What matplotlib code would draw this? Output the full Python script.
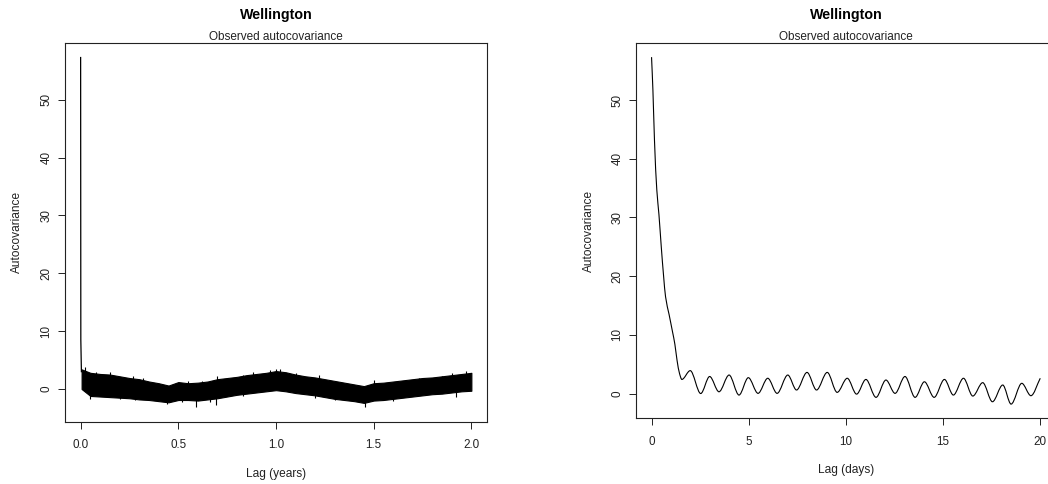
import numpy as np
import matplotlib
matplotlib.use("Agg")
import matplotlib.pyplot as plt
from matplotlib.path import Path
from matplotlib.patches import PathPatch

plt.rcParams["font.family"] = ["Liberation Sans", "DejaVu Sans"]

# ---------------- data ----------------
city = "Wellington"
subtitle = "Observed autocovariance"
ylabel = "Autocovariance"
xlabel_left = "Lag (years)"
xlabel_right = "Lag (days)"

# left panel: lag in years
spike_years = [0.0, 0.001, 0.004]
spike_vals = [57.3, 8.5, 3.0]
band_years = [0.005, 0.05, 0.1, 0.15, 0.2, 0.25, 0.3, 0.35, 0.4, 0.45, 0.5,
              0.55, 0.6, 0.65, 0.7, 0.75, 0.8, 0.85, 0.9, 0.95, 1.0, 1.05,
              1.1, 1.15, 1.2, 1.25, 1.3, 1.35, 1.4, 1.45, 1.5, 1.55, 1.6,
              1.65, 1.7, 1.75, 1.8, 1.85, 1.9, 1.95, 2.0]
band_top = [3.4, 2.8, 2.6, 2.5, 2.2, 1.9, 1.7, 1.3, 1.0, 0.6, 1.2,
            1.0, 1.1, 1.3, 1.7, 1.9, 2.1, 2.4, 2.6, 2.8, 3.1, 2.9,
            2.5, 2.2, 2.0, 1.7, 1.4, 1.1, 0.8, 0.5, 1.0, 1.1, 1.3,
            1.5, 1.7, 1.9, 2.0, 2.2, 2.4, 2.6, 2.8]
band_bottom = [0.0, -1.2, -1.3, -1.4, -1.5, -1.6, -1.8, -1.9, -2.1, -2.3, -1.9,
               -1.9, -2.0, -1.8, -1.6, -1.3, -1.0, -0.8, -0.6, -0.4, -0.2, -0.4,
               -0.7, -0.9, -1.1, -1.4, -1.7, -1.9, -2.1, -2.4, -2.0, -1.9, -1.7,
               -1.5, -1.3, -1.1, -0.9, -0.8, -0.6, -0.4, -0.3]
peak_years = [0.02, 0.08, 0.15, 0.27, 0.32, 0.55, 0.62, 0.7, 0.83, 0.88,
              0.97, 1.0, 1.02, 1.1, 1.22, 1.5, 1.62, 1.73, 1.85, 1.9, 1.97]
peak_vals = [3.8, 3.0, 2.9, 2.3, 1.9, 1.3, 1.4, 2.3, 2.5, 2.9,
             3.3, 3.5, 3.4, 2.8, 2.4, 1.6, 1.4, 1.9, 2.3, 2.7, 3.1]
dip_years = [0.05, 0.2, 0.28, 0.44, 0.52, 0.593, 0.66, 0.695, 0.83,
             1.2, 1.3, 1.455, 1.6, 1.92]
dip_vals = [-1.7, -1.8, -1.9, -2.6, -2.2, -3.15, -2.3, -2.7, -1.2,
            -1.5, -1.9, -3.15, -2.1, -1.3]

# right panel: lag in days
curve_days = [0.0, 0.07, 0.15, 0.27, 0.38, 0.5, 0.62, 0.72, 0.9, 1.08, 1.2,
              1.31, 1.44, 1.56, 1.99, 2.53, 2.99, 3.47, 3.99, 4.5, 4.98,
              5.48, 5.98, 6.46, 7.01, 7.46, 8.0, 8.49, 9.04, 9.55, 10.07,
              10.55, 11.03, 11.55, 12.06, 12.53, 13.04, 13.56, 14.04, 14.54,
              15.07, 15.53, 16.05, 16.53, 17.04, 17.54, 18.07, 18.5, 19.05,
              19.52, 20.0]
curve_vals = [57.3, 51.7, 43.2, 34.7, 30.5, 25.0, 20.0, 16.5, 13.5, 10.5, 8.4,
              5.7, 3.4, 2.4, 3.9, 0.0, 2.9, 0.3, 3.15, -0.26, 2.7,
              0.03, 2.6, 0.03, 3.15, 0.6, 3.6, 0.6, 3.6, 0.2, 2.6,
              -0.1, 2.4, -0.65, 2.3, 0.03, 2.9, -0.65, 2.0, -0.65,
              2.4, -0.26, 2.6, -0.43, 1.85, -1.4, 1.45, -1.8, 1.74,
              -0.37, 2.6]

left_xticks = [0.0, 0.5, 1.0, 1.5, 2.0]
left_xticklabels = ["0.0", "0.5", "1.0", "1.5", "2.0"]
right_xticks = [0, 5, 10, 15, 20]
right_xticklabels = ["0", "5", "10", "15", "20"]
yticks = [0, 10, 20, 30, 40, 50]
yticklabels = ["0", "10", "20", "30", "40", "50"]


# ---------------- helpers ----------------
def smooth_path(x, y):
    """Monotone cubic (Fritsch-Carlson) curve through the given points, as Bezier path."""
    x = np.asarray(x, float)
    y = np.asarray(y, float)
    h = np.diff(x)
    d = np.diff(y) / h
    m = np.zeros_like(x)
    m[0] = d[0]
    m[-1] = d[-1]
    for i in range(1, len(x) - 1):
        if d[i - 1] * d[i] <= 0:
            m[i] = 0.0
        else:
            w1 = 2 * h[i] + h[i - 1]
            w2 = h[i] + 2 * h[i - 1]
            m[i] = (w1 + w2) / (w1 / d[i - 1] + w2 / d[i])
    verts = [(x[0], y[0])]
    codes = [Path.MOVETO]
    for i in range(len(x) - 1):
        verts += [(x[i] + h[i] / 3, y[i] + m[i] * h[i] / 3),
                  (x[i + 1] - h[i] / 3, y[i + 1] - m[i + 1] * h[i] / 3),
                  (x[i + 1], y[i + 1])]
        codes += [Path.CURVE4] * 3
    return Path(verts, codes)


W, H = 1048, 484
fig = plt.figure(figsize=(W / 100, H / 100), dpi=100)


def px(x, y):
    return x / W, 1 - y / H


FS = 8.4
ax1 = fig.add_axes([65 / W, 1 - 421.7 / H, 422 / W, 378.7 / H])
ax2 = fig.add_axes([636 / W, 1 - 418.3 / H, 419.8 / W, 375.3 / H])

# left panel
ax1.plot(spike_years, spike_vals, color="black", lw=0.9)
ax1.fill_between(band_years, band_bottom, band_top, color="black",
                 edgecolor="black", lw=0.8)
centre = (np.asarray(band_top) + np.asarray(band_bottom)) / 2
ax1.vlines(peak_years, np.interp(peak_years, band_years, centre), peak_vals,
           color="black", lw=0.8)
ax1.vlines(dip_years, dip_vals, np.interp(dip_years, band_years, centre),
           color="black", lw=0.8)
ax1.set_xlim(-0.08, 2.08)
ax1.set_ylim(-5.65, 59.81)
ax1.set_xticks(left_xticks)
ax1.set_xticklabels(left_xticklabels)

# right panel
ax2.add_patch(PathPatch(smooth_path(curve_days, curve_vals), facecolor="none",
                        edgecolor="black", lw=0.8))
ax2.set_xlim(-0.8, 20.8)
ax2.set_ylim(-4.22, 59.71)
ax2.set_xticks(right_xticks)
ax2.set_xticklabels(right_xticklabels)

for ax in (ax1, ax2):
    ax.set_yticks(yticks)
    ax.set_yticklabels(yticklabels)
    for s in ax.spines.values():
        s.set_linewidth(0.8)
        s.set_color("#222222")
    ax.tick_params(direction="out", length=4.8, width=0.7, color="#222222",
                   labelsize=FS, labelcolor="#222222")
    ax.tick_params(axis="x", pad=14.3)
    ax.tick_params(axis="y", pad=6.4)
    for lab in ax.get_xticklabels():
        lab.set_va("baseline")
    for lab in ax.get_yticklabels():
        lab.set_rotation(90)
        lab.set_rotation_mode("anchor")
        lab.set_ha("center")
        lab.set_va("baseline")

# titles and labels
for cx, cy, xl, yx, yc in [(276, 477, xlabel_left, 20, 232.3),
                           (845.9, 473.5, xlabel_right, 591.7, 230.7)]:
    fig.text(*px(cx, 18.5), city, ha="center", va="baseline",
             fontsize=10.3, fontweight="bold", color="black")
    fig.text(*px(cx, 40.5), subtitle, ha="center", va="baseline",
             fontsize=8.5, color="#222222")
    fig.text(*px(cx, cy), xl, ha="center", va="baseline",
             fontsize=8.6, color="#222222")
    fig.text(*px(yx, yc), ylabel, ha="center", va="baseline", rotation=90,
             rotation_mode="anchor", fontsize=8.6, color="#222222")

fig.savefig("out.png", dpi=100)
